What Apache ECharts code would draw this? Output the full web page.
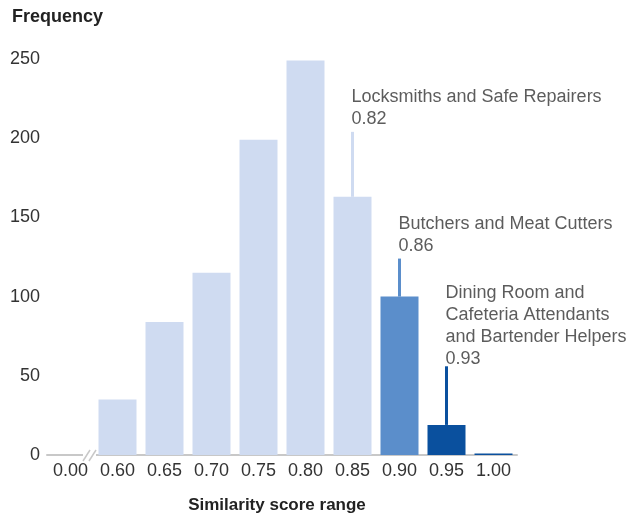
<!DOCTYPE html>
<html>
<head>
<meta charset="utf-8">
<script src="https://cdn.jsdelivr.net/npm/echarts@6/dist/echarts.min.js"></script>
<style>
  html, body { margin: 0; padding: 0; background: #fff; }
  #main { width: 639px; height: 517px; }
</style>
</head>
<body>
<div id="main"></div>
<script>
// 数据
var categories = ['0.00', '0.60', '0.65', '0.70', '0.75', '0.80', '0.85', '0.90', '0.95', '1.00'];
var frequencies = [0, 35, 84, 115, 199, 249, 163, 100, 19, 1];
var barColors = ['#cfdbf1', '#cfdbf1', '#cfdbf1', '#cfdbf1', '#cfdbf1', '#cfdbf1', '#cfdbf1', '#5b8ecb', '#0a509e', '#0a509e'];

// 标注
var annNames = ['Locksmiths and Safe Repairers', 'Butchers and Meat Cutters', 'Dining Room and\nCafeteria Attendants\nand Bartender Helpers'];
var annScores = ['0.82', '0.86', '0.93'];
var annBars = ['0.85', '0.90', '0.95'];
var annTops = [204, 124, 56];
var annTextAt = [204, 124, 53];
var annColors = ['#cfdbf1', '#5b8ecb', '#0a509e'];

var font = 'Liberation Sans, Arial, sans-serif';
var textColor = '#333';

var myChart = echarts.init(document.getElementById('main'));

var barData = [];
for (var i = 0; i < frequencies.length; i++) {
    barData.push({ value: frequencies[i], itemStyle: { color: barColors[i] } });
}

var lineData = [];
var labelData = [];
for (var k = 0; k < annBars.length; k++) {
    var idx = categories.indexOf(annBars[k]);
    lineData.push([
        { coord: [annBars[k], frequencies[idx]], lineStyle: { color: annColors[k], width: 3, type: 'solid' } },
        { coord: [annBars[k], annTops[k]] }
    ]);
    labelData.push([annBars[k], annTextAt[k]]);
}

myChart.setOption({
    animation: false,
    textStyle: { fontFamily: font },
    title: {
        text: 'Frequency',
        left: 12,
        top: 8,
        padding: 0,
        textStyle: { fontFamily: font, fontSize: 18, fontWeight: 'bold', color: '#222' }
    },
    grid: { left: 47, right: 122, top: 59, bottom: 62, outerBoundsMode: 'none' },
    xAxis: {
        type: 'category',
        data: categories,
        name: 'Similarity score range',
        nameLocation: 'middle',
        nameGap: 42,
        nameTextStyle: { fontFamily: font, fontSize: 17, fontWeight: 'bold', color: '#222', padding: [0, 10, 0, 0] },
        axisLine: { lineStyle: { color: '#c8c8c8', width: 2 } },
        axisTick: { show: false },
        axisLabel: { fontSize: 18, color: textColor, margin: 7 }
    },
    yAxis: {
        type: 'value',
        min: 0,
        max: 250,
        interval: 50,
        axisLine: { show: false },
        axisTick: { show: false },
        splitLine: { show: false },
        axisLabel: { fontSize: 18, color: textColor, margin: 7 }
    },
    graphic: [
        { type: 'rect', shape: { x: 83, y: 451, width: 13, height: 8 }, style: { fill: '#fff' }, z: 100 },
        { type: 'line', shape: { x1: 83, y1: 461, x2: 90, y2: 450 }, style: { stroke: '#c8c8c8', lineWidth: 1.5 }, z: 101 },
        { type: 'line', shape: { x1: 89, y1: 461, x2: 96, y2: 450 }, style: { stroke: '#c8c8c8', lineWidth: 1.5 }, z: 101 }
    ],
    series: [
        {
            type: 'bar',
            data: barData,
            barWidth: 38,
            markLine: {
                silent: true,
                symbol: ['none', 'none'],
                label: { show: false },
                data: lineData
            }
        },
        {
            type: 'scatter',
            data: labelData,
            symbolSize: 1,
            silent: true,
            itemStyle: { color: 'transparent' },
            label: {
                show: true,
                position: 'top',
                distance: 1,
                align: 'left',
                offset: [-1, 0],
                fontSize: 18,
                lineHeight: 22,
                color: textColor,
                formatter: function (p) {
                    return annNames[p.dataIndex] + '\n' + annScores[p.dataIndex];
                }
            }
        }
    ]
});
</script>
</body>
</html>
